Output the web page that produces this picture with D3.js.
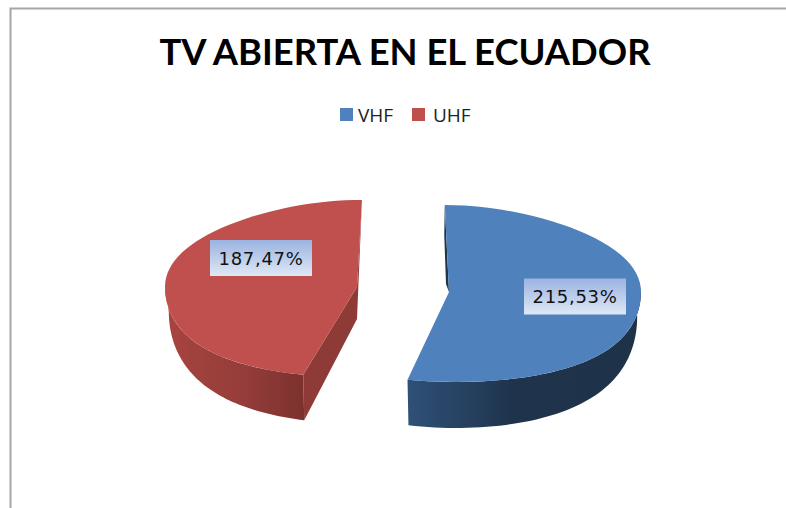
<!DOCTYPE html>
<html>
<head>
<meta charset="utf-8">
<script src="https://cdnjs.cloudflare.com/ajax/libs/d3/7.8.5/d3.min.js"></script>
<style>
  html, body { margin: 0; padding: 0; background: #fff; overflow: hidden; }
  svg { display: block; }
</style>
</head>
<body>
<svg id="chart" width="786" height="508"></svg>
<script>
const categories = ['VHF', 'UHF']
const values = [215, 187]
const valueLabels = ['215,53%', '187,47%']
const topColors = ['#4f81bd', '#c0504d']
const title = 'TV ABIERTA EN EL ECUADOR'

const svg = d3.select('#chart')
const midX = 398

// each slice is pulled out sideways, the pie is seen from above with some perspective
const centers = [{x: 449, y: 292}, {x: 357, y: 287}]
const labelPos = [{x: 575, y: 296.5}, {x: 261, y: 258}]

const project = (c, angle, r, depth) => {
    let cos = Math.cos(angle), sin = Math.sin(angle)
    let ry = cos > 0 ? 87 : 90
    let d = depth ? depth * (0.55 - 0.45 * cos) : 0
    let shrink = depth ? 0.98 : 1
    let y0 = c.y - ry * cos * r
    let x0 = c.x + 192 * shrink * sin * r
    // the far rim leans in and the near rim leans out, the widest point stays put
    let s = cos > 0 ? 1 - 0.1 * Math.pow(cos, 3) * r : 1 + 0.14 * cos * cos * r
    return [midX + (x0 - midX) * s, y0 + d]
}

const pie = d3.pie().sort(null).startAngle(0.005).endAngle(2 * Math.PI + 0.005)
const slices = pie(values).map((d, i) => ({...d, index: i, c: centers[i]}))

const line = d3.line().curve(d3.curveLinear)
const arcPoints = (c, a0, a1, depth) => d3.range(0, 61).map(k =>
    project(c, a0 + (a1 - a0) * k / 60, 1, depth))

const DEPTH = 46

let defs = svg.append('defs')

const addGradient = (id, x1, x2, stops) => {
    let g = defs.append('linearGradient').attr('id', id)
        .attr('gradientUnits', 'userSpaceOnUse')
        .attr('x1', x1).attr('x2', x2).attr('y1', 0).attr('y2', 0)
    stops.forEach(s => g.append('stop').attr('offset', s[0]).attr('stop-color', s[1]))
}
addGradient('blueWall', 408, 640, [[0, '#2f5078'], [0.45, '#1f344c'], [1, '#1e3248']])
addGradient('redWall', 165, 305, [[0, '#a8443f'], [0.55, '#953d3a'], [1, '#7c312f']])

let labelGrad = defs.append('linearGradient').attr('id', 'labelFill')
    .attr('x1', 0).attr('x2', 0).attr('y1', 0).attr('y2', 1)
labelGrad.append('stop').attr('offset', 0).attr('stop-color', '#9ab3e0')
labelGrad.append('stop').attr('offset', 1).attr('stop-color', '#dfe8f6')

// frame of the chart, cut by the right and bottom edge of the picture
svg.append('path')
    .attr('d', 'M10.5,508 V8.5 H786')
    .attr('fill', 'none')
    .attr('stroke', '#a6a6a6')
    .attr('stroke-width', 2)

svg.append('text')
    .attr('x', 405).attr('y', 65)
    .attr('text-anchor', 'middle')
    .attr('font-family', 'Lato, sans-serif')
    .attr('font-weight', 700)
    .attr('font-size', 36.4)
    .attr('fill', '#000')
    .text(title)

// legend
let legendX = [340, 412]
let legend = svg.append('g').selectAll('g').data(categories).enter().append('g')
    .attr('transform', (d, i) => `translate(${legendX[i]},108)`)
legend.append('rect').attr('width', 13).attr('height', 13)
    .attr('fill', (d, i) => topColors[i])
legend.append('text')
    .attr('x', (d, i) => i ? 21 : 18).attr('y', 14)
    .attr('font-family', '"Open Sans", sans-serif')
    .attr('font-size', 19)
    .attr('fill', '#222')
    .text(d => d)

// outer walls, only the front half shows
const outerWall = d => {
    let a0 = Math.max(d.startAngle, Math.PI / 2 - 0.05)
    let a1 = Math.min(d.endAngle, 3 * Math.PI / 2)
    return line(arcPoints(d.c, a0, a1, 0).concat(arcPoints(d.c, a1, a0, DEPTH))) + 'Z'
}

const innerWall = d => {
    let apex = project(d.c, 0, 0, 0)
    let apexLow = [apex[0], apex[1] + 32]
    if (d.index === 0) {
        // thin dark sliver left of the top edge
        let rim = project(d.c, d.startAngle, 1, 0)
        return line([rim, [rim[0] - 0.5, rim[1] + 30], [apex[0] - 3, apex[1] - 8], apex]) + 'Z'
    }
    let rimEnd = project(d.c, d.endAngle, 1, 0)
    let rimStart = project(d.c, d.startAngle, 1, 0)
    let rimStartLow = project(d.c, d.startAngle, 1, DEPTH)
    return line([rimEnd, apexLow, rimStartLow, rimStart, apex]) + 'Z'
}

const topFace = d => line(arcPoints(d.c, d.startAngle, d.endAngle, 0)
    .concat([project(d.c, 0, 0, 0)])) + 'Z'

let pies = svg.append('g').selectAll('g').data(slices).enter().append('g')

pies.append('path')
    .attr('d', innerWall)
    .attr('fill', d => d.index === 0 ? '#1f3349' : '#8e3b38')
pies.append('path')
    .attr('d', outerWall)
    .attr('fill', d => d.index === 0 ? 'url(#blueWall)' : 'url(#redWall)')
pies.append('path')
    .attr('d', topFace)
    .attr('fill', d => topColors[d.index])

// data labels
let labels = svg.append('g').selectAll('g').data(valueLabels).enter().append('g')
    .attr('transform', (d, i) => `translate(${labelPos[i].x},${labelPos[i].y})`)
labels.append('rect')
    .attr('x', -51).attr('y', -18).attr('width', 102).attr('height', 36)
    .attr('fill', 'url(#labelFill)')
labels.append('text')
    .attr('text-anchor', 'middle')
    .attr('y', 6.5)
    .attr('font-family', '"DejaVu Sans", sans-serif')
    .attr('font-size', 18)
    .attr('letter-spacing', 0.7)
    .attr('fill', '#111')
    .text(d => d)
</script>
</body>
</html>
